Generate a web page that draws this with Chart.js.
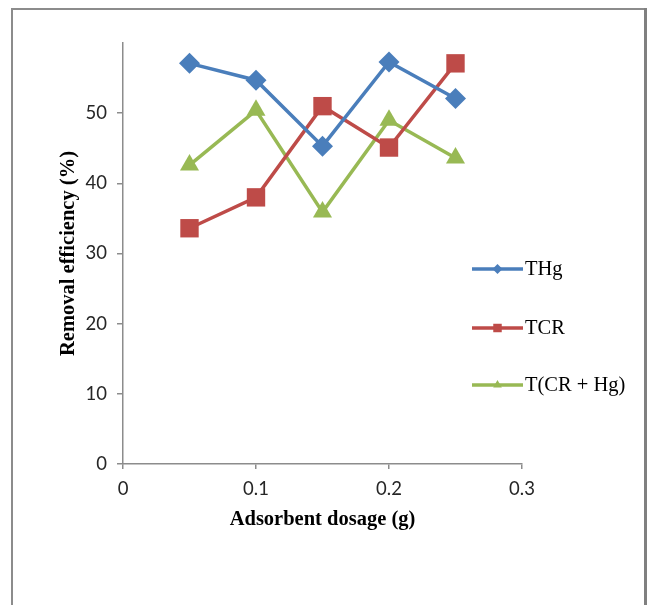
<!DOCTYPE html>
<html>
<head>
<meta charset="utf-8">
<script src="https://cdn.jsdelivr.net/npm/chart.js@4.4.1/dist/chart.umd.min.js"></script>
<style>
  html, body { margin: 0; padding: 0; background: #ffffff; }
  #wrap { width: 648px; height: 605px; position: relative; }
</style>
</head>
<body>
<div id="wrap"><canvas id="c" width="648" height="605"></canvas></div>
<script>
// ---- data ----
const dosages = [0.05, 0.1, 0.15, 0.2, 0.25];
const seriesNames = ['THg', 'TCR', 'T(CR + Hg)'];
const thgValues = [57.1, 54.7, 45.3, 57.3, 52.1];
const tcrValues = [33.6, 38.0, 51.0, 45.1, 57.1];
const tcrHgValues = [42.6, 50.4, 35.9, 49.0, 43.6];
const xTickValues = [0, 0.1, 0.2, 0.3];
const yTickValues = [0, 10, 20, 30, 40, 50];

const toPoints = (vals) => dosages.map((x, i) => ({ x: x, y: vals[i] }));

const colors = ['#4A7EBB', '#BE4B48', '#98B954'];
const styles = ['rectRot', 'rect', 'triangle'];
const radii = [10.5, 13, 11];

const datasets = [thgValues, tcrValues, tcrHgValues].map((vals, i) => ({
  label: seriesNames[i],
  data: toPoints(vals),
  borderColor: colors[i],
  backgroundColor: colors[i],
  borderWidth: 3.5,
  pointStyle: styles[i],
  pointRadius: radii[i],
  pointHoverRadius: radii[i],
  pointBorderWidth: 0,
  tension: 0
}));

// frame plugin
const framePlugin = {
  id: 'frame',
  beforeDraw(chart) {
    const ctx = chart.ctx;
    ctx.save();
    ctx.fillStyle = '#ffffff';
    ctx.fillRect(0, 0, chart.width, chart.height);
    ctx.strokeStyle = '#8c8c8c';
    ctx.lineWidth = 2;
    ctx.beginPath();
    ctx.moveTo(12, 612);
    ctx.lineTo(12, 9);
    ctx.lineTo(645, 9);
    ctx.stroke();
    ctx.lineWidth = 3;
    ctx.strokeStyle = '#808080';
    ctx.beginPath();
    ctx.moveTo(645.5, 8);
    ctx.lineTo(645.5, 612);
    ctx.stroke();
    ctx.restore();
  }
};

// in-plot legend drawn from dataset definitions
const legendPlugin = {
  id: 'inlegend',
  afterDraw(chart) {
    const ctx = chart.ctx;
    const x0 = 472, x1 = 523;
    const ys = [269, 328, 385];
    ctx.save();
    chart.data.datasets.forEach((ds, i) => {
      const y = ys[i];
      ctx.strokeStyle = ds.borderColor;
      ctx.lineWidth = 3.5;
      ctx.beginPath();
      ctx.moveTo(x0, y);
      ctx.lineTo(x1, y);
      ctx.stroke();
      ctx.fillStyle = ds.backgroundColor;
      Chart.helpers.drawPoint(ctx, {
        pointStyle: ds.pointStyle,
        radius: ds.pointStyle === 'rect' ? 6 : 5,
        borderWidth: 0
      }, (x0 + x1) / 2, y);
      ctx.fillStyle = '#000000';
      ctx.font = '20.5px "Liberation Serif"';
      ctx.textBaseline = 'middle';
      ctx.textAlign = 'left';
      ctx.fillText(ds.label, x1 + 2, y + 1);
    });
    ctx.restore();
  }
};

new Chart(document.getElementById('c'), {
  type: 'line',
  data: { datasets: datasets },
  plugins: [framePlugin, legendPlugin],
  options: {
    responsive: false,
    animation: false,
    devicePixelRatio: 1,
    layout: { padding: { top: 43, right: 126, bottom: 0, left: 0 } },
    plugins: { legend: { display: false }, tooltip: { enabled: false } },
    scales: {
      x: {
        type: 'linear',
        min: 0,
        max: 0.3,
        afterFit(scale) { scale.height = 141; },
        afterBuildTicks(scale) { scale.ticks = xTickValues.map(v => ({ value: v })); },
        ticks: {
          color: '#262626',
          font: { family: 'Lato', size: 18.5 },
          padding: 9,
          callback: (v) => String(Math.round(v * 10) / 10)
        },
        grid: { drawOnChartArea: false, drawTicks: true, tickLength: 5, color: '#8c8c8c', lineWidth: 1.5 },
        border: { display: true, color: '#8c8c8c', width: 1.5 },
        title: {
          display: true,
          text: 'Adsorbent dosage (g)',
          color: '#000000',
          font: { family: 'Liberation Serif', size: 20.5, weight: 'bold' },
          padding: { top: 0, bottom: 73 }
        }
      },
      y: {
        type: 'linear',
        min: 0,
        max: 60,
        afterFit(scale) { scale.width = 123; },
        afterBuildTicks(scale) { scale.ticks = yTickValues.map(v => ({ value: v })); },
        ticks: {
          color: '#262626',
          font: { family: 'Lato', size: 18.5 },
          padding: 10
        },
        grid: { drawOnChartArea: false, drawTicks: true, tickLength: 6, color: '#8c8c8c', lineWidth: 1.5 },
        border: { display: true, color: '#8c8c8c', width: 1.5 },
        title: {
          display: true,
          text: 'Removal efficiency (%)',
          color: '#000000',
          font: { family: 'Liberation Serif', size: 20.5, weight: 'bold' },
          padding: { top: 56, bottom: 0 }
        }
      }
    }
  }
});
</script>
</body>
</html>
